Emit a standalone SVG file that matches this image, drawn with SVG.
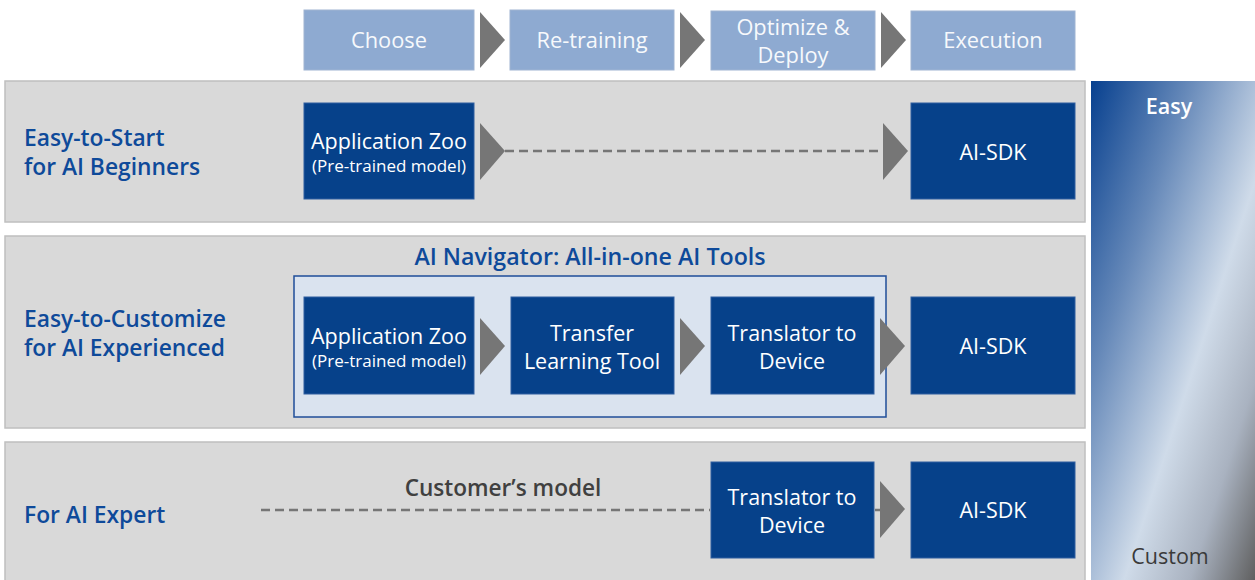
<svg xmlns="http://www.w3.org/2000/svg" width="1255" height="580" viewBox="0 0 1255 580">
<style>
.band{fill:#d9d9d9;stroke:#bfbfbf;stroke-width:1.5}
.hdr{fill:#8eaad1;stroke:#9fb4d2;stroke-width:1}
.dk{fill:#06418a;stroke:#2f5ea0;stroke-width:1}
.tri{fill:#767676}
.t{font-family:"Open Sans","Noto Sans",sans-serif;text-anchor:middle}
.wh{fill:#ffffff;font-size:21.5px}
.hw{fill:#f7f9fc;font-size:21.8px}
.sm{fill:#ffffff;font-size:17px}
.lbl{font-family:"Open Sans","Noto Sans",sans-serif;font-weight:600;font-size:22.8px;fill:#0e4a9a}
.dash{stroke:#767676;stroke-width:2.5;stroke-dasharray:9,5;fill:none}
</style>
<defs>
<linearGradient id="g" x1="0" y1="0" x2="1" y2="1" gradientUnits="objectBoundingBox">
<stop offset="0" stop-color="#07408f"/>
<stop offset="0.3" stop-color="#6689b9"/>
<stop offset="0.6" stop-color="#cfdbe9"/>
<stop offset="0.8" stop-color="#a9b2c0"/>
<stop offset="1" stop-color="#5f5f5f"/>
</linearGradient>
</defs>
<rect width="1255" height="580" fill="#ffffff"/>

<g id="bands">
<rect class="band" x="5" y="81" width="1080" height="141"/>
<rect class="band" x="5" y="236" width="1080" height="192"/>
<rect class="band" x="5" y="442" width="1080" height="145"/>
</g>

<g id="scale">
<rect x="1091" y="81" width="164" height="500" fill="url(#g)"/>
<text x="1169" y="114" font-family="'Open Sans','Noto Sans',sans-serif" font-weight="600" font-size="21.5" fill="#ffffff" text-anchor="middle">Easy</text>
<text x="1170" y="564" font-family="'Open Sans','Noto Sans',sans-serif" font-size="21.5" fill="#3a3a3a" text-anchor="middle">Custom</text>
</g>

<g id="header">
<g id="h-choose"><rect class="hdr" x="304" y="10" width="170" height="60"/><text class="t hw" x="389" y="48">Choose</text></g>
<g id="h-retrain"><rect class="hdr" x="510" y="10" width="164" height="60"/><text class="t hw" x="592" y="48">Re-training</text></g>
<g id="h-opt"><rect class="hdr" x="711" y="11" width="164" height="59"/><text class="t hw" x="793" y="35">Optimize &amp;</text><text class="t hw" x="793" y="63">Deploy</text></g>
<g id="h-exec"><rect class="hdr" x="911" y="11" width="164" height="59"/><text class="t hw" x="993" y="48">Execution</text></g>
</g>

<g id="labels">
<text class="lbl" x="24" y="146">Easy-to-Start</text>
<text class="lbl" x="24" y="175">for AI Beginners</text>
<text class="lbl" x="24" y="327">Easy-to-Customize</text>
<text class="lbl" x="24" y="356">for AI Experienced</text>
<text class="lbl" x="24" y="523">For AI Expert</text>
</g>

<g id="navigator">
<rect x="294" y="276" width="592" height="141" fill="#dae3ef" stroke="#1f4e99" stroke-width="1.5"/>
<text x="590" y="265" font-family="'Open Sans','Noto Sans',sans-serif" font-weight="600" font-size="23.2" fill="#0e4a9a" text-anchor="middle">AI Navigator: All-in-one AI Tools</text>
</g>

<g id="connectors">
<polygon class="tri" points="480,12 505,40 480,68"/>
<polygon class="tri" points="680,12 705,40 680,68"/>
<polygon class="tri" points="881,12 906,40 881,68"/>
<polygon class="tri" points="480,123 505,151 480,180"/>
<line class="dash" x1="505" y1="151" x2="884" y2="151"/>
<polygon class="tri" points="883,123 908,151 883,180"/>
<polygon class="tri" points="480,318 505,346 480,375"/>
<polygon class="tri" points="680,318 705,346 680,375"/>
<polygon class="tri" points="880,318 905,346 880,375"/>
<line class="dash" x1="261" y1="510" x2="710" y2="510"/>
<line class="dash" x1="875" y1="510" x2="882" y2="510"/>
<polygon class="tri" points="880,481 905,509 880,538"/>
</g>

<g id="r1-zoo"><rect class="dk" x="304" y="103" width="170" height="96"/><text class="t wh" x="389" y="149" font-size="22.6">Application Zoo</text><text class="t sm" x="389" y="172">(Pre-trained model)</text></g>
<g id="r1-sdk"><rect class="dk" x="911" y="103" width="164" height="96"/><text class="t wh" x="993" y="160">AI-SDK</text></g>

<g id="r2-zoo"><rect class="dk" x="304" y="297" width="170" height="97"/><text class="t wh" x="389" y="344" font-size="22.6">Application Zoo</text><text class="t sm" x="389" y="367">(Pre-trained model)</text></g>
<g id="r2-tl"><rect class="dk" x="511" y="297" width="163" height="97"/><text class="t wh" x="592" y="341">Transfer</text><text class="t wh" x="592" y="369">Learning Tool</text></g>
<g id="r2-tr"><rect class="dk" x="711" y="297" width="163" height="97"/><text class="t wh" x="792" y="341">Translator to</text><text class="t wh" x="792" y="369">Device</text></g>
<g id="r2-sdk"><rect class="dk" x="911" y="297" width="164" height="97"/><text class="t wh" x="993" y="354">AI-SDK</text></g>

<g id="r3-cm"><text x="503" y="496" font-family="'Open Sans','Noto Sans',sans-serif" font-weight="600" font-size="22.6" fill="#404040" text-anchor="middle">Customer’s model</text></g>
<g id="r3-tr"><rect class="dk" x="711" y="462" width="163" height="96"/><text class="t wh" x="792" y="505">Translator to</text><text class="t wh" x="792" y="533">Device</text></g>
<g id="r3-sdk"><rect class="dk" x="911" y="462" width="164" height="96"/><text class="t wh" x="993" y="518">AI-SDK</text></g>
</svg>
